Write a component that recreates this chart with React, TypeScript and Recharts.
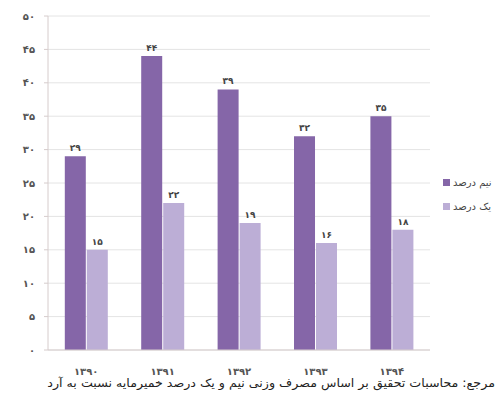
import React from 'react';
import { BarChart, Bar, XAxis, YAxis, CartesianGrid, LabelList } from 'recharts';

const years = ['1390', '1391', '1392', '1393', '1394'];
const halfPercent = [29, 44, 39, 32, 35];
const onePercent = [15, 22, 19, 16, 18];
const yTicks = [0, 5, 10, 15, 20, 25, 30, 35, 40, 45, 50];

const HALF = 'نیم درصد';
const ONE = 'یک درصد';
const SOURCE = 'مرجع: محاسبات تحقیق بر اساس مصرف وزنی نیم و یک درصد خمیرمایه نسبت به آرد';

const DARK = '#8566a8';
const LIGHT = '#bcaed6';

const faDigits = '۰۱۲۳۴۵۶۷۸۹';
const toFa = (v: number | string) =>
  String(v).replace(/[0-9]/g, (d) => faDigits[Number(d)]);

const data = years.map((y, i) => ({ year: y, half: halfPercent[i], one: onePercent[i] }));

const FONT = '"DejaVu Sans", sans-serif';

// category label drawn a fixed distance under the axis
const YearTick = (props: any) => {
  const { x, y, payload } = props;
  return (
    <text x={x} y={y + 17} textAnchor="middle" fontSize={10} fontWeight="bold" fill="#555" fontFamily={FONT}>
      {toFa(payload.value)}
    </text>
  );
};

export default function App() {
  const legendItems = [
    { name: HALF, color: DARK },
    { name: ONE, color: LIGHT },
  ];
  return (
    <div style={{ position: 'absolute', left: 0, top: 0, width: 499, height: 399, background: '#fff', overflow: 'hidden', fontFamily: FONT }}>
      <BarChart
        width={499}
        height={399}
        data={data}
        margin={{ top: 16, right: 69, bottom: 19, left: 0 }}
        barCategoryGap="22%"
        barGap={1}
      >
        <CartesianGrid vertical={false} stroke="#e4e4e4" />
        <XAxis
          dataKey="year"
          axisLine={{ stroke: '#d6cccc' }}
          tickLine={false}
          height={30}
          tick={<YearTick />}
        />
        <YAxis
          width={48}
          domain={[0, 50]}
          ticks={yTicks}
          tickFormatter={toFa}
          axisLine={{ stroke: '#d6cccc' }}
          tickLine={{ stroke: '#d6cccc' }}
          tickSize={4}
          tickMargin={9}
          tick={{ fontSize: 10, fill: '#555', fontWeight: 'bold', fontFamily: FONT }}
        />
        <Bar dataKey="half" name={HALF} fill={DARK} isAnimationActive={false}>
          <LabelList dataKey="half" position="top" formatter={toFa} style={{ fontSize: 9, fill: '#444', fontWeight: 'bold', fontFamily: FONT }} />
        </Bar>
        <Bar dataKey="one" name={ONE} fill={LIGHT} isAnimationActive={false}>
          <LabelList dataKey="one" position="top" formatter={toFa} style={{ fontSize: 9, fill: '#444', fontWeight: 'bold', fontFamily: FONT }} />
        </Bar>
      </BarChart>
      <div style={{ position: 'absolute', left: 443, top: 170 }}>
        {legendItems.map((it) => (
          <div key={it.name} style={{ display: 'flex', alignItems: 'center', height: 24, whiteSpace: 'nowrap' }}>
            <span style={{ width: 7, height: 7, background: it.color, marginRight: 3, display: 'inline-block' }} />
            <span style={{ fontSize: 10, color: '#444', direction: 'rtl' }}>{it.name}</span>
          </div>
        ))}
      </div>
      <div
        style={{
          position: 'absolute',
          right: 4,
          top: 375,
          fontSize: 11.5,
          lineHeight: '16px',
          color: '#222',
          direction: 'rtl',
          whiteSpace: 'nowrap',
          transform: 'scaleX(1.1)',
          transformOrigin: 'right center',
        }}
      >
        {SOURCE}
      </div>
    </div>
  );
}
